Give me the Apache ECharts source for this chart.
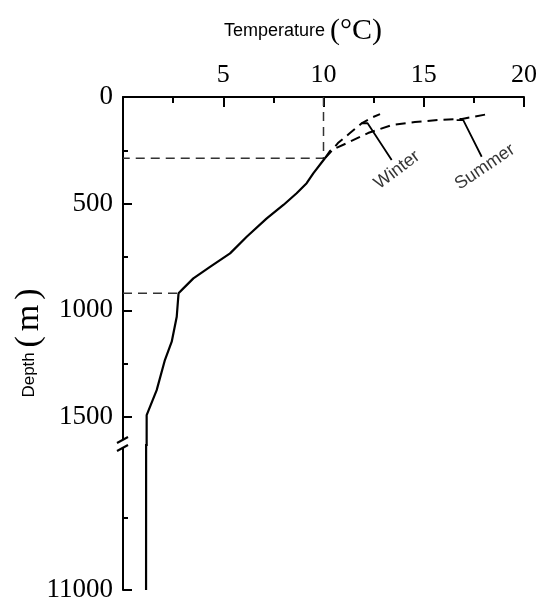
<!DOCTYPE html>
<html><head><meta charset="utf-8">
<script src="https://cdn.jsdelivr.net/npm/echarts@6/dist/echarts.min.js"></script>
<style>html,body{margin:0;padding:0;background:#fff}#c{width:550px;height:613px}</style>
</head><body><div id="c"></div>
<script>
// ---- data (temperature °C, depth m) ----
const profileT = [10.07, 9.49, 9.16, 8.66, 8.00, 7.17, 6.17, 5.34, 4.34, 3.51, 3.01, 2.77, 2.68, 2.43, 2.09, 1.68, 1.18, 1.17, 1.15];
const profileD = [287, 358, 404, 451, 506, 569, 655, 733, 796, 850, 897, 920, 1030, 1147, 1233, 1374, 1491, 1500, 11000];
const winterT = [10.07, 10.32, 10.72, 11.32, 11.92, 12.47, 12.82];
const winterD = [287, 262, 216, 169, 122, 94, 80];
const summerT = [10.07, 10.32, 11.17, 12.22, 13.42, 14.56, 15.71, 16.91, 18.2];
const summerD = [287, 253, 216, 169, 131, 117, 108, 103, 80];
const guideTopT = [10, 10, 0];
const guideTopD = [0, 287, 287];
const guideBottomT = [0, 2.77];
const guideBottomD = [920, 920];
const winterLeaderT = [11.9, 12.2, 13.4];
const winterLeaderD = [123, 123, 295];
const summerLeaderT = [16.64, 16.97, 17.89];
const summerLeaderD = [108, 108, 280];
const seasonLabels = ['Winter', 'Summer'];
const seasonLabelT = [13.67, 18.05];
const seasonLabelD = [342, 328];
const xTicks = [0, 5, 10, 15, 20];
const yTicksUpper = [0, 500, 1000, 1500];
const yTicksLower = [11000];

const zip = (a, b) => a.map((v, i) => [v, b[i]]);
const chart = echarts.init(document.getElementById('c'), null, {renderer: 'canvas'});
const serif = 'Liberation Serif';
const sans = 'Liberation Sans';
const axisLineStyle = {color: '#000', width: 2};
const dash = [10, 6];

const option = {
  animation: false,
  backgroundColor: '#fff',
  grid: [
    {left: 123, top: 97, width: 401, height: 348},
    {left: 123, top: 445, width: 401, height: 145}
  ],
  xAxis: [
    {gridIndex: 0, type: 'value', position: 'top', min: xTicks[0], max: xTicks[xTicks.length - 1], interval: 5,
     axisLine: {onZero: false, lineStyle: axisLineStyle},
     axisTick: {inside: true, length: 10, lineStyle: axisLineStyle},
     minorTick: {show: true, splitNumber: 2, length: 6, lineStyle: axisLineStyle},
     axisLabel: {showMinLabel: false, fontFamily: serif, fontSize: 26, color: '#000', margin: 9},
     splitLine: {show: false}},
    {gridIndex: 1, type: 'value', min: 0, max: 20, show: false}
  ],
  yAxis: [
    {gridIndex: 0, type: 'value', inverse: true, min: 0, max: 1631, interval: 500,
     axisLine: {onZero: false, lineStyle: axisLineStyle},
     axisTick: {inside: true, length: 9, lineStyle: axisLineStyle},
     minorTick: {show: true, splitNumber: 2, length: 5, lineStyle: axisLineStyle},
     axisLabel: {showMaxLabel: false, fontFamily: serif, fontSize: 27, color: '#000', margin: 10,
       formatter: v => yTicksUpper.includes(v) ? String(v) : ''},
     splitLine: {show: false}},
    {gridIndex: 1, type: 'value', inverse: true, min: 10000, max: 11000, interval: 1000,
     axisLine: {onZero: false, lineStyle: axisLineStyle},
     axisTick: {inside: true, length: 9, lineStyle: axisLineStyle},
     minorTick: {show: true, splitNumber: 2, length: 5, lineStyle: axisLineStyle},
     axisLabel: {showMinLabel: false, fontFamily: serif, fontSize: 27, color: '#000', margin: 10,
       formatter: v => yTicksLower.includes(v) ? String(v) : ''},
     splitLine: {show: false}}
  ],
  series: [
    {type: 'line', xAxisIndex: 0, yAxisIndex: 0, data: zip(profileT, profileD), showSymbol: false, symbol: 'none',
     lineStyle: {color: '#000', width: 2.2}, silent: true, z: 5},
    {type: 'line', xAxisIndex: 1, yAxisIndex: 1, data: zip(profileT, profileD), showSymbol: false, symbol: 'none',
     lineStyle: {color: '#000', width: 2.2}, silent: true, z: 5},
    {type: 'line', xAxisIndex: 0, yAxisIndex: 0, data: zip(winterT, winterD), symbol: 'none',
     lineStyle: {color: '#000', width: 2, type: dash}, silent: true},
    {type: 'line', xAxisIndex: 0, yAxisIndex: 0, data: zip(summerT, summerD), symbol: 'none',
     lineStyle: {color: '#000', width: 2, type: dash}, silent: true},
    {type: 'line', xAxisIndex: 0, yAxisIndex: 0, data: zip(guideTopT, guideTopD), symbol: 'none',
     lineStyle: {color: '#333', width: 1.5, type: [9, 6]}, silent: true},
    {type: 'line', xAxisIndex: 0, yAxisIndex: 0, data: zip(guideBottomT, guideBottomD), symbol: 'none',
     lineStyle: {color: '#333', width: 1.5, type: [9, 6]}, silent: true},
    {type: 'line', xAxisIndex: 0, yAxisIndex: 0, data: zip(winterLeaderT, winterLeaderD), symbol: 'none',
     lineStyle: {color: '#000', width: 1.8}, silent: true},
    {type: 'line', xAxisIndex: 0, yAxisIndex: 0, data: zip(summerLeaderT, summerLeaderD), symbol: 'none',
     lineStyle: {color: '#000', width: 1.8}, silent: true},
    {type: 'scatter', xAxisIndex: 0, yAxisIndex: 0, symbolSize: 1, silent: true,
     itemStyle: {color: 'rgba(0,0,0,0)'},
     data: seasonLabels.map((n, i) => ({value: [seasonLabelT[i], seasonLabelD[i]],
       label: {show: true, formatter: n, rotate: i === 0 ? 37 : 34, position: 'inside',
               fontFamily: sans, fontSize: 18, color: '#000'}}))}
  ]
};
chart.setOption(option);

const yb = chart.convertToPixel({yAxisIndex: 1}, 10000);
const xa = chart.convertToPixel({xAxisIndex: 0}, 0);
chart.setOption({
  graphic: [
    {type: 'rect', z: 100, shape: {x: xa - 3, y: yb - 5, width: 13, height: 7.5}, style: {fill: '#fff'}},
    {type: 'line', z: 101, shape: {x1: xa - 6, y1: yb - 2, x2: xa + 5, y2: yb - 8}, style: {stroke: '#000', lineWidth: 2}},
    {type: 'line', z: 101, shape: {x1: xa - 6, y1: yb + 6, x2: xa + 5, y2: yb}, style: {stroke: '#000', lineWidth: 2}},
    {type: 'text', z: 100, x: 303, y: 31,
     style: {text: '{a|Temperature }{b|(°C)}', align: 'center', verticalAlign: 'middle',
       rich: {a: {fontFamily: sans, fontSize: 18, fill: '#000'}, b: {fontFamily: serif, fontSize: 30, fill: '#000'}}}},
    {type: 'text', z: 100, x: 29, y: 343, rotation: Math.PI / 2,
     style: {text: '{a|Depth }{b|(}{c|m}{b|)}', align: 'center', verticalAlign: 'middle',
       rich: {a: {fontFamily: sans, fontSize: 17, fill: '#000'},
              b: {fontFamily: serif, fontSize: 34, fill: '#000'},
              c: {fontFamily: serif, fontSize: 34, fill: '#000', padding: [0, 5, 0, 5]}}}}
  ]
});
</script>
</body></html>
